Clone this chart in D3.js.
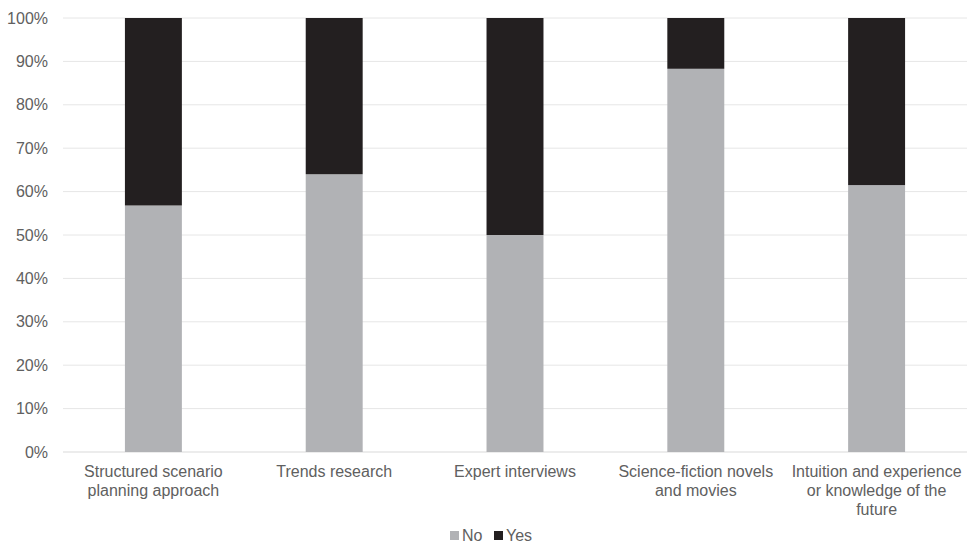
<!DOCTYPE html>
<html><head><meta charset="utf-8">
<script src="https://cdn.jsdelivr.net/npm/d3@7"></script>
<style>body{margin:0;background:#fff;}svg{display:block;font-family:"Liberation Sans",Arial,sans-serif;}</style>
</head><body>
<svg id="c" width="967" height="545"></svg>
<script>
const categories = [
  ["Structured scenario","planning approach"],
  ["Trends research"],
  ["Expert interviews"],
  ["Science-fiction novels","and movies"],
  ["Intuition and experience","or knowledge of the","future"]
];
const noValues = [0.568, 0.64, 0.50, 0.883, 0.615];
const yesValues = noValues.map(v => 1 - v);
const seriesNames = ["No","Yes"];
const colors = ["#b1b2b5","#231f20"];
const yTicks = [0,0.1,0.2,0.3,0.4,0.5,0.6,0.7,0.8,0.9,1.0];

(function(){
const svg = d3.select("#c");
const mLeft = 63, mRight = 967, mTop = 18, mBottom = 452;
const fs = 16, txt = "#606060";
const x = d3.scaleBand().domain(d3.range(categories.length)).range([mLeft,mRight]).padding(0);
const y = d3.scaleLinear().domain([0,1]).range([mBottom,mTop]);
const barW = x.bandwidth()*0.315;

svg.append("g").selectAll("line").data(yTicks).join("line")
  .attr("x1",mLeft).attr("x2",mRight)
  .attr("y1",d=>y(d)).attr("y2",d=>y(d))
  .attr("stroke",d=>d===0?"#d9d9d9":"#e6e6e6").attr("stroke-width",1);

svg.append("g").selectAll("text").data(yTicks).join("text")
  .attr("x",48).attr("y",d=>y(d)).attr("dy","0.35em")
  .attr("text-anchor","end").attr("fill",txt).attr("font-size",fs)
  .text(d=>d3.format(".0%")(d));

const data = categories.map((c,i)=>({i, No:noValues[i], Yes:yesValues[i]}));
const stack = d3.stack().keys(seriesNames)(data);
svg.append("g").selectAll("g").data(stack).join("g")
  .attr("fill",(d,i)=>colors[i])
  .selectAll("rect").data(d=>d).join("rect")
  .attr("x",d=>x(d.data.i)+x.bandwidth()/2-barW/2)
  .attr("width",barW)
  .attr("y",d=>y(d[1]))
  .attr("height",d=>y(d[0])-y(d[1]));

const xl = svg.append("g").selectAll("text").data(categories).join("text")
  .attr("text-anchor","middle").attr("fill",txt).attr("font-size",fs)
  .attr("x",(d,i)=>x(i)+x.bandwidth()/2).attr("y",477);
xl.selectAll("tspan").data(d=>d).join("tspan")
  .attr("x",function(){return this.parentNode.getAttribute("x");})
  .attr("dy",(d,i)=>i===0?0:19).text(d=>d);

const lg = svg.append("g");
const items = [{n:"No",c:colors[0],x:450},{n:"Yes",c:colors[1],x:494}];
items.forEach(it=>{
  lg.append("rect").attr("x",it.x).attr("y",531).attr("width",9).attr("height",9).attr("fill",it.c);
  lg.append("text").attr("x",it.x+12).attr("y",541).attr("fill",txt).attr("font-size",fs).text(it.n);
});
})();
</script>
</body></html>
